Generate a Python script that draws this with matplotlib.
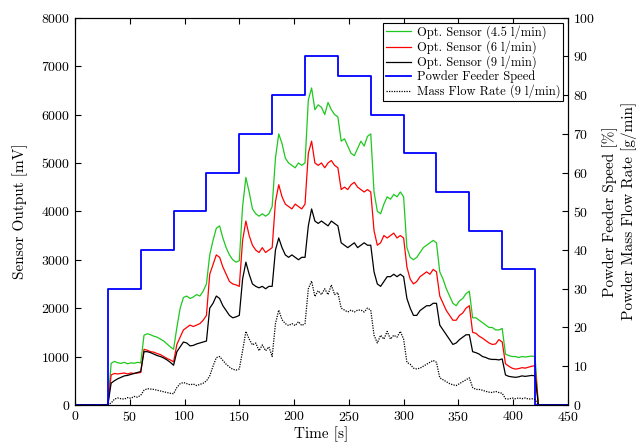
import matplotlib
matplotlib.use("Agg")
import matplotlib.pyplot as plt
import numpy as np

plt.rcParams['font.family'] = 'serif'
plt.rcParams['font.serif'] = ['cmr10']
plt.rcParams['mathtext.fontset'] = 'cm'
plt.rcParams['axes.formatter.use_mathtext'] = True

# sampled every 3 s between 33 s and 420 s, zero outside
t_lead = list(range(0, 31, 3))
t_mid = list(range(33, 421, 3))
t_tail = list(range(423, 451, 3))
time = np.array(t_lead + t_mid + t_tail)

green_mid = [
    860, 900, 870, 860, 880, 850, 870, 860, 880, 870,
    1440, 1470, 1450, 1420, 1400, 1360, 1320, 1260, 1200, 1150,
    1600, 2000, 2220, 2250, 2200, 2230, 2280, 2250, 2350, 2500,
    3100, 3400, 3650, 3700, 3450, 3250, 3100, 3000, 2950, 2980,
    4100, 4700, 4400, 4050, 3950, 3900, 3950, 3900, 3950, 4100,
    5100, 5600, 5400, 5100, 5000, 4950, 4900, 5000, 4950, 5000,
    6300, 6550, 6100, 6200, 6150, 6000, 6250, 6100, 6000, 5950,
    5450, 5500, 5350, 5200, 5150, 5300, 5450, 5350, 5550, 5600,
    4400, 4000, 3950, 4150, 4300, 4250, 4350, 4300, 4400, 4300,
    3250, 3050, 3000, 3050, 3150, 3250, 3300, 3350, 3400, 3350,
    2750, 2600, 2400, 2250, 2100, 2050, 2150, 2200, 2300, 2350,
    1800, 1800, 1750, 1700, 1650, 1600, 1600, 1550, 1550, 1580,
    1050, 1020, 1000, 1000, 980, 1000, 990, 1000, 1010, 1000,
]
red_mid = [
    620, 650, 640, 650, 660, 640, 660, 650, 660, 670,
    1150, 1130, 1100, 1090, 1060, 1040, 1000, 960, 930, 890,
    1250, 1400, 1550, 1600, 1650, 1620, 1650, 1680, 1750, 1850,
    2700, 2900, 3100, 3050, 2850, 2700, 2550, 2500, 2480, 2450,
    3400, 3800, 3500, 3300, 3200, 3150, 3250, 3150, 3200, 3250,
    4200, 4550, 4300, 4150, 4100, 4050, 4150, 4100, 4050, 4150,
    5200, 5450, 5000, 4950, 5000, 4900, 5000, 5050, 4950, 4900,
    4450, 4500, 4450, 4550, 4600, 4500, 4450, 4400, 4450, 4400,
    3600, 3300, 3350, 3500, 3450, 3500, 3550, 3450, 3500, 3450,
    2850, 2600, 2500, 2550, 2650, 2700, 2750, 2700, 2800, 2750,
    2250, 2100, 1950, 1850, 1750, 1750, 1850, 1900, 2000, 2050,
    1500, 1480, 1420, 1380, 1330, 1280, 1250, 1260, 1350, 1300,
    850, 800, 760, 740, 750, 770, 760, 780, 800, 810,
]
black_mid = [
    450, 500, 540, 570, 600, 610, 630, 650, 670, 690,
    1100, 1100, 1080, 1050, 1020, 1000, 970, 930, 880, 820,
    1100, 1200, 1300, 1280, 1220, 1230, 1260, 1280, 1300, 1320,
    2000, 2100, 2250, 2200, 2050, 1950, 1850, 1800, 1820, 1850,
    2600, 2950, 2700, 2500, 2450, 2420, 2450, 2400, 2450, 2450,
    3200, 3450, 3250, 3100, 3050, 3100, 3050, 3000, 3050, 3050,
    3700, 4050, 3800, 3750, 3800, 3750, 3700, 3800, 3750, 3700,
    3350, 3300, 3250, 3300, 3350, 3250, 3300, 3350, 3300, 3300,
    2750, 2500, 2450, 2550, 2650, 2650, 2700, 2650, 2700, 2650,
    2200, 2000, 1850, 1850, 1950, 2000, 2050, 2050, 2100, 2100,
    1650, 1550, 1450, 1350, 1250, 1280, 1350, 1400, 1450, 1450,
    1100, 1080, 1050, 1000, 980, 950, 940, 940, 930, 950,
    620, 590, 580, 570, 580, 600, 590, 600, 610, 600,
]
# g/min, right axis
massflow_mid = [
    0.5, 1.5, 1.8, 1.6, 1.5, 1.9, 1.7, 2.2, 2.0, 2.5,
    3.8, 4.2, 4.1, 4.0, 3.8, 3.6, 3.4, 3.2, 3.0, 2.9,
    4.5, 5.5, 5.8, 5.5, 5.2, 5.4, 5.0, 5.3, 5.6, 6.2,
    7.5, 10.0, 12.2, 12.5, 11.5, 10.5, 9.8, 9.2, 9.0, 9.3,
    14.0, 19.0, 17.0, 15.5, 16.0, 14.0, 15.5, 14.0, 15.0, 12.5,
    21.0, 24.5, 22.0, 21.0, 20.5, 21.0, 20.5, 21.5, 20.5, 21.0,
    30.0, 32.0, 28.0, 29.5, 28.5, 30.0, 28.5, 31.0, 28.5, 29.0,
    25.0, 24.5, 24.0, 24.5, 24.0, 24.5, 24.5, 24.0, 25.0, 24.5,
    18.0, 16.0, 18.0, 17.0, 19.0, 17.0, 18.0, 17.5, 19.0, 17.0,
    11.0, 10.5, 9.5, 9.3, 9.5, 10.0, 10.5, 11.0, 11.5, 11.0,
    7.0, 6.5, 6.0, 5.5, 5.2, 5.0, 5.5, 6.0, 6.5, 7.0,
    4.5, 4.0, 4.0, 3.8, 3.5, 3.3, 3.2, 3.5, 3.2, 3.0,
    1.6, 1.5, 1.8, 1.6, 1.8, 1.6, 1.8, 1.5, 1.6, 1.4,
]

zeros_lead = [0] * len(t_lead)
zeros_tail = [0] * len(t_tail)
green = zeros_lead + green_mid + zeros_tail
red = zeros_lead + red_mid + zeros_tail
black = zeros_lead + black_mid + zeros_tail
massflow = zeros_lead + massflow_mid + zeros_tail

speed_time = [0, 30, 60, 90, 120, 150, 180, 210, 240, 270, 300, 330, 360, 390, 420, 450]
speed = [0, 30, 40, 50, 60, 70, 80, 90, 85, 75, 65, 55, 45, 35, 0, 0]

fig = plt.figure(figsize=(6.41, 4.44), dpi=100)
ax = fig.add_axes([0.117, 0.088, 0.769, 0.872])
ax2 = ax.twinx()

l1, = ax.plot(time, green, color='#1ec81e', lw=0.9, label='Opt. Sensor (4.5 l/min)')
l2, = ax.plot(time, red, color='red', lw=0.9, label='Opt. Sensor (6 l/min)')
l3, = ax.plot(time, black, color='black', lw=0.9, label='Opt. Sensor (9 l/min)')
l4, = ax2.plot(speed_time, speed, color='blue', lw=1.3, drawstyle='steps-post',
               label='Powder Feeder Speed')
l5, = ax2.plot(time, massflow, color='black', lw=0.9, dashes=(1, 1),
               label='Mass Flow Rate (9 l/min)')

ax.set_xlim(0, 450)
ax.set_ylim(0, 8000)
ax2.set_ylim(0, 100)
ax.set_xticks(range(0, 451, 50))
ax.set_yticks(range(0, 8001, 1000))
ax2.set_yticks(range(0, 101, 10))

ax.tick_params(direction='in', top=True, labelsize=10, length=4)
ax2.tick_params(direction='in', labelsize=10, length=4)

ax.set_xlabel('Time [s]', fontsize=11, labelpad=2)
ax.set_ylabel('Sensor Output [mV]', fontsize=11, labelpad=9)
ax2.set_ylabel('Powder Feeder Speed [%]\nPowder Mass Flow Rate [g/min]', fontsize=11,
               labelpad=5, linespacing=1.3)

leg = ax2.legend(handles=[l1, l2, l3, l4, l5], loc='upper right', fontsize=9,
                 fancybox=False, framealpha=1, edgecolor='black',
                 handlelength=2.0, borderaxespad=0.4, labelspacing=0.1,
                 borderpad=0.2, handletextpad=0.5)
leg.get_frame().set_linewidth(0.8)

fig.savefig('out.png', dpi=100)
